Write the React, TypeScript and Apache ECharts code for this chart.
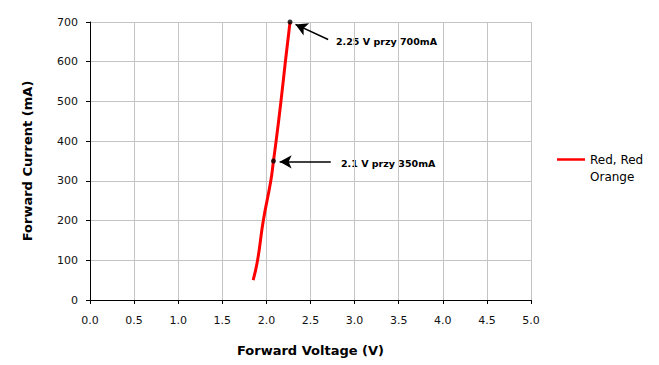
import React, { useEffect, useRef } from "react";
import * as echarts from "echarts";

const seriesName = "Red, Red Orange";
const voltage = [1.85, 1.9, 1.965, 2.05, 2.08, 2.11, 2.165, 2.215, 2.268];
const current = [50, 100, 200, 300, 350, 400, 500, 600, 700];
const markedVoltage = [2.268, 2.08];
const markedCurrent = [700, 350];
const noteTexts = ["2.25 V przy 700mA", "2.1 V przy 350mA"];
const arrowFrom = [[2.7, 656], [2.73, 348]];
const arrowTo = [[2.33, 694], [2.15, 348]];

export default function App() {
  const ref = useRef<HTMLDivElement>(null);
  useEffect(() => {
    if (!ref.current) return;
    const chart = echarts.init(ref.current, null, { renderer: "svg" });
    const font = "'DejaVu Sans', Verdana, sans-serif";
    chart.setOption({
      animation: false,
      backgroundColor: "#ffffff",
      textStyle: { fontFamily: font },
      grid: { left: 90, top: 22, right: 128, bottom: 65 },
      xAxis: {
        type: "value",
        min: 0,
        max: 5,
        interval: 0.5,
        name: "Forward Voltage (V)",
        nameLocation: "middle",
        nameGap: 44,
        nameTextStyle: { fontFamily: font, fontWeight: "bold", fontSize: 13, color: "#000" },
        axisLine: { show: true, lineStyle: { color: "#000", width: 1 } },
        axisTick: { show: true, length: 4, lineStyle: { color: "#000" } },
        axisLabel: { color: "#111", fontSize: 11, margin: 15, formatter: (v: number) => v.toFixed(1) },
        splitLine: { show: true, lineStyle: { color: "#c4c4c4", width: 1 } },
      },
      yAxis: {
        type: "value",
        min: 0,
        max: 700,
        interval: 100,
        name: "Forward Current (mA)",
        nameLocation: "middle",
        nameGap: 56,
        nameTextStyle: { fontFamily: font, fontWeight: "bold", fontSize: 13, color: "#000" },
        axisLine: { show: true, lineStyle: { color: "#000", width: 1 } },
        axisTick: { show: true, length: 4, lineStyle: { color: "#000" } },
        axisLabel: { color: "#111", fontSize: 11, margin: 12 },
        splitLine: { show: true, lineStyle: { color: "#c4c4c4", width: 1 } },
      },
      legend: {
        data: [{ name: seriesName, icon: "rect" }],
        left: 557,
        top: 134,
        orient: "vertical",
        padding: 0,
        itemWidth: 28,
        itemHeight: 2.5,
        itemGap: 5,
        formatter: () => "\nRed, Red\nOrange",
        textStyle: { fontFamily: font, fontSize: 12, color: "#000", lineHeight: 17 },
      },
      series: [
        {
          name: seriesName,
          type: "line",
          smooth: true,
          symbol: "none",
          lineStyle: { color: "#ff0000", width: 3 },
          itemStyle: { color: "#ff0000" },
          data: voltage.map((v, i) => [v, current[i]]),
          z: 3,
        },
        {
          name: "marks",
          type: "scatter",
          symbolSize: 5,
          itemStyle: { color: "#000" },
          data: markedVoltage.map((v, i) => [v, markedCurrent[i]]),
          z: 4,
          markLine: {
            silent: true,
            symbol: ["none", "arrow"],
            symbolSize: [10, 12],
            label: { show: false },
            lineStyle: { color: "#000", width: 1.5, type: "solid" },
            data: arrowFrom.map((f, i) => [{ coord: f }, { coord: arrowTo[i] }]),
          },
        },
      ],
      graphic: noteTexts.map((t, i) => ({
        type: "text",
        x: i === 0 ? 336 : 341,
        y: i === 0 ? 41 : 163,
        style: {
          text: t,
          fontFamily: font,
          fontWeight: "bold",
          fontSize: 9.5,
          fill: "#000",
          verticalAlign: "middle",
        },
      })),
    });
    return () => chart.dispose();
  }, []);
  return <div ref={ref} style={{ width: 659, height: 365, position: "absolute", left: 0, top: 0 }} />;
}
